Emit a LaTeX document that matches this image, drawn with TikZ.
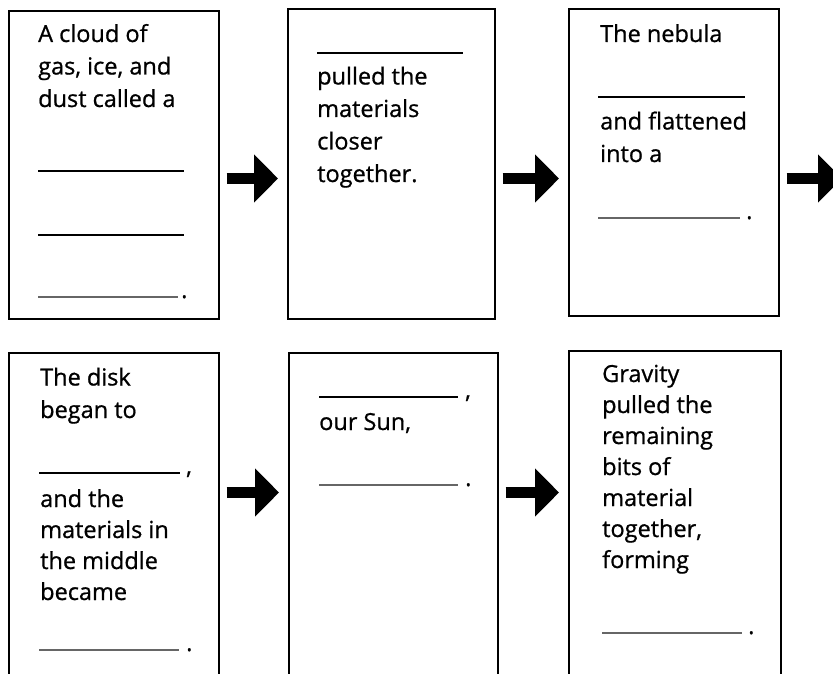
\documentclass[tikz,border=0pt]{standalone}
\usepackage{fontspec}
\setmainfont{Open Sans}[FakeBold=0.8]
\usepackage{tikz}
\usetikzlibrary{arrows.meta}

\tikzset{
  card/.style={draw, line width=1.6pt, anchor=north west, minimum width=210pt, inner sep=0pt},
  txt/.style={anchor=base west, align=left, inner sep=0pt, font=\fontsize{23.5}{32.5}\selectfont},
  tight/.style={font=\fontsize{23.5}{31}\selectfont},
  blank/.style={line width=1.3pt},
  flow/.style={line width=11pt, -{Triangle[length=24pt,width=47pt]}, shorten <=7pt, shorten >=9pt}
}

\begin{document}
\begin{tikzpicture}[x=1pt,y=-1pt]
\useasboundingbox (0,0) rectangle (833,674);
\clip (0,0) rectangle (833,674);

% first row
\node[card, minimum height=308pt] (b1) at (8,10) {};
\node[card, minimum height=310pt, minimum width=207pt] (b2) at (287,8) {};
\node[card, minimum height=307pt] (b3) at (568,8) {};
% second row
\node[card, minimum height=340pt] (b4) at (8,352) {};
\node[card, minimum height=340pt, minimum width=209pt] (b5) at (288,352) {};
\node[card, minimum height=342pt, minimum width=212pt] (b6) at (568,350) {};

% texts (placed at the baseline of their last line)
\node[txt] (t1) at (38,107) {A cloud of\\gas, ice, and\\dust called a};
\node[txt] (t2) at (317,182) {pulled the\\materials\\closer\\together.};
\node[txt] (t3) at (600,42) {The nebula};
\node[txt] (t3b) at (600,162) {and flattened\\into a};
\node[txt] (t4) at (40,418) {The disk\\began to};
\node[txt, tight] (t4b) at (40,600) {and the\\materials in\\the middle\\became};
\node[txt] (t5) at (319,430) {our Sun,};
\node[txt, tight] (t6) at (602,568) {Gravity\\pulled the\\remaining\\bits of\\material\\together,\\forming};

% blanks to fill in
\foreach \x/\y/\l in {38/171/146, 38/235/146, 317/53/146, 598/97/147, 39/473/141, 319/397/139}
  \draw[blank] (\x,\y) -- ++(\l,0);
\foreach \x/\y/\l in {38/297/140, 598/218/142, 39/650/140, 319/485/139, 602/633/140}
  \draw[blank, black!60] (\x,\y) -- ++(\l,0);
\node[txt] (p1) at (181,298) {.};
\node[txt] (p3) at (746,219) {.};
\node[txt] (p4) at (186,474) {,};
\node[txt] (p4b) at (186,651) {.};
\node[txt] (p5) at (465,398) {,};
\node[txt] (p5b) at (465,486) {.};
\node[txt] (p6) at (748,634) {.};

% arrows
\coordinate (r1) at (0,178.5);
\coordinate (r2) at (0,492.5);
\coordinate (more) at (842,178.5);
\draw[flow] (b1.east |- r1) -- (b2.west |- r1);
\draw[flow] (b2.east |- r1) -- (b3.west |- r1);
\draw[flow, shorten >=0pt] (b3.east |- r1) -- (more);
\draw[flow] (b4.east |- r2) -- (b5.west |- r2);
\draw[flow] (b5.east |- r2) -- (b6.west |- r2);

\end{tikzpicture}
\end{document}
